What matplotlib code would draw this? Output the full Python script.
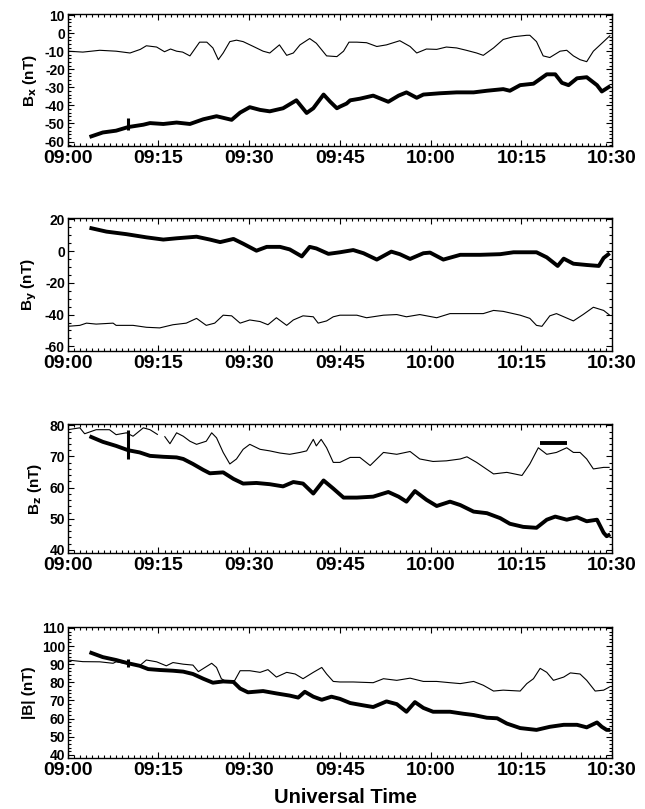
import numpy as np
import matplotlib
matplotlib.use("Agg")
import matplotlib.pyplot as plt
from matplotlib.ticker import MultipleLocator, AutoMinorLocator

plt.rcParams['font.family'] = ['Liberation Sans', 'DejaVu Sans']
plt.rcParams['font.weight'] = 'bold'
plt.rcParams['axes.unicode_minus'] = False

# time axis: minutes after 09:00
time_ticks = [0, 15, 30, 45, 60, 75, 90]
time_labels = ["09:00", "09:15", "09:30", "09:45", "10:00", "10:15", "10:30"]

# ---- Bx ----
bx_thin_t = [0, 2.5, 5.3, 8, 10.3, 12, 13, 14.7, 16, 17, 18, 19, 20.2, 21.8, 23, 24, 24.9, 25.7,
             26.8, 27.9, 29, 30.7, 32.3, 33.4, 35, 36.2, 37.3, 38.4, 40, 41.1, 42.8, 44.5, 45.6,
             46.5, 47.8, 49.4, 51.1, 52.7, 54.9, 56.6, 57.7, 59.3, 61, 62.6, 64.3, 65.9, 67.6,
             68.7, 70.4, 72, 73.7, 75.9, 76.4, 77.5, 78.6, 79.7, 81.4, 82.5, 83.6, 84.7, 85.8,
             86.9, 88.6, 89.7]
bx_thin = [-10, -10.5, -9.5, -10, -11, -9, -7, -7.7, -10.3, -8.8, -10, -10.5, -12.6, -5, -5, -8.2,
           -14.7, -11, -4.7, -3.9, -4.7, -7.4, -10, -11, -6.5, -12.3, -11, -6.5, -3, -5.6, -12.6,
           -13, -10, -5, -5, -5.3, -7.4, -6.5, -4.2, -7.4, -11, -8.8, -9, -7.7, -8.2, -9.5, -11,
           -12.3, -8.2, -3.5, -2, -1.2, -1.2, -4.7, -12.6, -13.5, -10, -9.5, -12.6, -14.7, -15.8,
           -10, -4.7, -1.2]
bx_thick_t = [3.6, 5.8, 8, 10, 12.5, 13.6, 15.8, 18, 20.2, 22.4, 24.6, 27.1, 28.5, 30.1, 31.8,
              33.4, 35.6, 37.8, 39.5, 40.6, 42.3, 43.4, 44.5, 45, 46.1, 46.7, 48.3, 50.5, 53, 54.7,
              56, 57.7, 58.8, 61.5, 64.3, 67.1, 69.3, 72, 73.1, 74.8, 77, 79.2, 80.6, 81.7, 82.8,
              84.2, 85.8, 87.5, 88.3, 89.7]
bx_thick = [-57.5, -55, -54, -52, -50.7, -49.8, -50.3, -49.5, -50.3, -47.7, -46, -48, -44, -41,
            -42.5, -43.3, -41.6, -37.2, -44.2, -41.6, -34, -38, -41.6, -40.7, -39, -37.2, -36.3,
            -34.6, -38, -34.6, -32.8, -35.8, -34, -33.3, -32.8, -32.8, -31.9, -31, -31.9, -28.8,
            -28, -22.8, -22.8, -27.5, -28.8, -25, -24.4, -28.8, -32.3, -29.3]
bx_spike_t = [10, 10]
bx_spike = [-53.8, -47]

# ---- By ----
by_thin_t = [0, 2, 3.1, 4.7, 7.5, 8, 10.8, 13, 15.2, 17.4, 19.6, 21.3, 22.9, 24.3, 25.7, 27.1,
             28.5, 30.1, 31.8, 33.1, 34.5, 36.2, 37.3, 38.9, 40.6, 41.4, 42.8, 43.9, 45, 47.8,
             49.4, 52.2, 54.4, 56, 58.2, 61, 63.2, 65.9, 68.7, 70.4, 72, 74.8, 76.4, 77.5, 78.4,
             79.7, 80.8, 83.6, 85.2, 86.9, 88.6, 89.6]
by_thin = [-47.4, -46.8, -45.4, -46, -45.4, -46.8, -46.8, -48, -48.4, -46.4, -45.4, -42.4, -46.8,
           -45.4, -40.4, -40.8, -45.4, -43.4, -44.4, -46.4, -42, -46.8, -43.4, -40.8, -41.4, -45.4,
           -44, -41.4, -40.4, -40.4, -42, -40.4, -40, -41.4, -40, -42, -39.4, -39.4, -39.4, -37.4,
           -38, -40.4, -42.4, -46.8, -47.4, -40.8, -39.4, -44, -40, -35.4, -37.4, -40.4]
by_thick_t = [3.6, 6.4, 9.7, 13, 15.8, 18, 21.3, 23.5, 25.2, 27.4, 29, 31.2, 32.9, 35.1, 36.7,
              38.7, 40, 41.1, 43.1, 45, 47.2, 48.9, 51.1, 53.5, 54.9, 56.6, 58.8, 59.9, 62.1, 64.9,
              68.2, 71.5, 73.7, 77.5, 79.2, 81, 82, 83.6, 85.8, 87.8, 88.6, 89.6]
by_thick = [14.6, 12.2, 10.6, 8.6, 7.2, 8, 9, 7.2, 5.6, 7.6, 4.6, 0.2, 2.6, 2.6, 1, -3.4, 2.6, 1.6,
            -1.8, -0.8, 0.6, -1.4, -5.4, -0.4, -2, -5, -1.4, -1, -5.4, -2.4, -2.4, -2, -0.8, -0.8,
            -4, -9.4, -4.8, -8, -8.8, -9.4, -4.4, -1.4]

# ---- Bz ----
bz_thin_t = [0, 2, 2.8, 4.7, 6.9, 8, 9.7, 10.8, 12.5, 13.6, 14.9, 15.4, 16, 16.9, 18, 19.1, 20.2,
             21.3, 22.9, 23.8, 24.6, 25.7, 26.8, 27.9, 29, 30.1, 31.8, 33.4, 35.1, 36.7, 38.4,
             39.5, 40.6, 41.1, 41.9, 42.8, 43.9, 45, 46.7, 48.3, 50, 52.2, 54.4, 56.6, 58.2, 60.4,
             62.6, 64.9, 66, 67.6, 70.4, 72.6, 75.1, 76.4, 77.8, 79.2, 80.8, 82.5, 83.6, 84.7,
             85.8, 86.9, 88.6, 89.6]
bz_thin = [78.6, 79.2, 77.3, 78.6, 78.6, 77, 77.6, 76.5, 79.2, 78.6, 77, np.nan, 76.5, 74.1, 77.6,
           76.5, 74.9, 73.9, 74.9, 77.6, 76, 71.3, 67.6, 69.2, 72.3, 73.9, 72.3, 71.8, 71.1, 70.7,
           71.3, 71.8, 75.5, 73.4, 75.5, 72.8, 68.1, 68.1, 69.7, 69.7, 67.1, 71.3, 70.7, 71.6,
           69.2, 68.4, 68.6, 69.2, 69.9, 68.1, 64.4, 64.9, 63.9, 67.6, 72.8, 70.7, 71.3, 72.8,
           71.3, 71.3, 69.2, 66, 66.5, 66.5]
bz_thick_t = [3.6, 5.8, 8, 10, 11.9, 13.6, 15.8, 18, 19.1, 20.7, 22.4, 23.5, 25.7, 27.4, 29, 31.2,
              33.4, 35.6, 37.3, 38.9, 40.6, 42.3, 43.9, 45.6, 47.8, 50.5, 53, 54.7, 56, 57.4, 59.3,
              61, 63.2, 64.9, 67.1, 69.3, 71.5, 73.1, 75.3, 77.5, 79.2, 80.6, 82.5, 84.2, 85.8,
              87.5, 88.6, 89.1, 89.7]
bz_thick = [76.5, 74.7, 73.4, 72, 71.3, 70.2, 69.9, 69.7, 69.2, 67.6, 65.7, 64.6, 64.9, 62.8, 61.3,
            61.5, 61.1, 60.4, 61.8, 61.3, 58.1, 62.3, 59.7, 56.8, 56.8, 57.1, 58.6, 57.1, 55.5,
            58.9, 56.1, 54.1, 55.5, 54.4, 52.3, 51.8, 50.2, 48.4, 47.4, 47.1, 49.7, 50.7, 49.7,
            50.5, 49.2, 49.7, 45.5, 44.4, 45]
bz_spike_t = [10, 10]
bz_spike = [69.2, 78.6]
bz_bar_t = [78.1, 82.5]
bz_bar = [74.2, 74.2]

# ---- |B| ----
bt_thin_t = [0, 2.5, 5.3, 7.5, 8, 10.3, 12, 13, 14.7, 16.3, 17.4, 19.1, 20.7, 21.6, 22.7, 23.8,
             24.6, 25.4, 26.3, 27.6, 28.5, 30.1, 31.8, 33.1, 34.5, 36.2, 37.6, 38.9, 40.6, 42,
             42.8, 43.9, 45, 47.2, 50.5, 52.2, 54.4, 56.6, 58.8, 61, 63.2, 64.9, 67.1, 68.7, 70.4,
             72, 74.8, 75.9, 77, 78.1, 79.2, 80.3, 82, 83.1, 84.7, 85.8, 87.2, 88.6, 89.6]
bt_thin = [92.3, 91.4, 91.3, 90.5, 91.3, 90, 89.5, 92.3, 91.3, 89.1, 90.9, 90, 89.5, 85.9, 88.2,
           90.5, 88.2, 82, 80.2, 81, 86.4, 86.4, 85.5, 87, 82.9, 85.5, 84.6, 82, 85.5, 88.2, 84.6,
           80.5, 80.2, 80.2, 79.8, 82, 81.1, 82.3, 80.5, 80.5, 79.8, 79.3, 80.5, 78.4, 75.2, 75.7,
           75.2, 79.3, 82, 87.7, 85.5, 81.1, 82.9, 85.2, 84.6, 81.1, 75.2, 75.7, 77.5]
bt_thick_t = [3.6, 5.8, 8, 10, 11.9, 13.3, 15.2, 17.4, 19.1, 20.7, 22.4, 24, 25.7, 27.4, 28.5,
              29.8, 32.3, 34.5, 36.7, 38.1, 39.2, 40.6, 42, 43.6, 45, 46.7, 48.9, 50.5, 52.7,
              54.4, 56, 57.4, 58.8, 60.4, 63.2, 65.4, 67.1, 69.3, 71, 72.6, 74.8, 77.5, 79.7, 82,
              84.2, 85.8, 87.5, 88.3, 89.1, 89.7]
bt_thick = [96.6, 93.9, 92.3, 90.5, 89.1, 87.3, 86.8, 86.4, 85.9, 84.6, 82, 79.8, 80.5, 80.2, 76.6,
            74.5, 75.2, 73.9, 72.7, 71.6, 74.8, 72.1, 70.4, 72.1, 70.9, 68.6, 67.3, 66.4, 69.5, 68,
            63.8, 69.1, 65.9, 63.8, 63.8, 62.7, 62, 60.5, 60.2, 57.3, 54.8, 53.8, 55.5, 56.6, 56.6,
            55.2, 57.9, 55.5, 53.8, 53.8]
bt_spike_t = [10, 10]
bt_spike = [88.2, 92.7]

fig = plt.figure(figsize=(6.45, 8.09), dpi=100)

panels = [
    ([0.105, 0.8195, 0.844, 0.163], (-62.5, 10.5), 10, r"B$_\mathbf{x}$ (nT)",
     [(bx_thin_t, bx_thin, 0.8), (bx_thick_t, bx_thick, 2.8), (bx_spike_t, bx_spike, 2.2)]),
    ([0.105, 0.566, 0.844, 0.164], (-63, 20.5), 20, r"B$_\mathbf{y}$ (nT)",
     [(by_thin_t, by_thin, 0.8), (by_thick_t, by_thick, 2.8)]),
    ([0.105, 0.3164, 0.844, 0.159], (39, 80.3), 10, r"B$_\mathbf{z}$ (nT)",
     [(bz_thin_t, bz_thin, 0.8), (bz_thick_t, bz_thick, 2.8), (bz_spike_t, bz_spike, 2.2),
      (bz_bar_t, bz_bar, 2.8)]),
    ([0.105, 0.063, 0.844, 0.162], (38.3, 110.5), 10, "|B| (nT)",
     [(bt_thin_t, bt_thin, 0.8), (bt_thick_t, bt_thick, 2.8), (bt_spike_t, bt_spike, 2.2)]),
]

for rect, ylim, step, ylabel, lines in panels:
    ax = fig.add_axes(rect)
    for t, v, lw in lines:
        ax.plot(t, v, color='black', lw=lw, solid_capstyle='butt', solid_joinstyle='round')
    ax.set_xlim(0, 90)
    ax.set_ylim(*ylim)
    ax.set_xticks(time_ticks)
    ax.set_xticklabels(time_labels, fontsize=14, fontweight='bold')
    ax.xaxis.set_minor_locator(MultipleLocator(1))
    ax.yaxis.set_major_locator(MultipleLocator(step))
    ax.yaxis.set_minor_locator(AutoMinorLocator(5 if step == 10 else 4))
    ax.tick_params(axis='y', labelsize=10, pad=2)
    ax.tick_params(axis='x', pad=3)
    ax.tick_params(which='both', direction='in', top=True, right=True, width=0.8)
    ax.tick_params(which='major', length=4)
    ax.tick_params(which='minor', length=2)
    ax.set_ylabel(ylabel, fontsize=11, fontweight='bold', labelpad=4)
    for s in ax.spines.values():
        s.set_linewidth(1.0)

fig.text(0.535, 0.002, "Universal Time", ha='center', va='bottom', fontsize=14.5, fontweight='bold')

fig.savefig("out.png", dpi=100)
